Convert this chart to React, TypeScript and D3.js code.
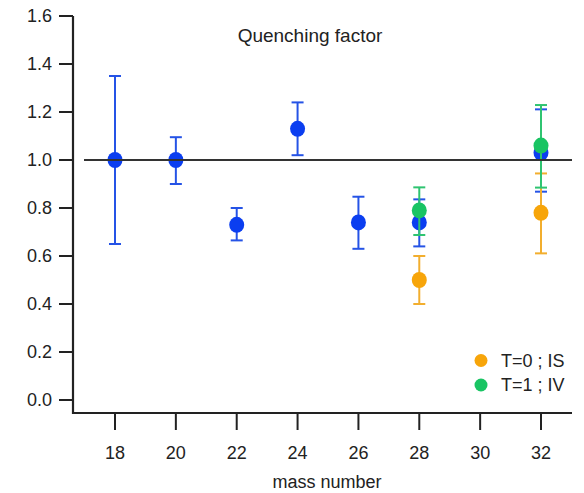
import React from "react";
import * as d3 from "d3";

const yTicks = [0.0, 0.2, 0.4, 0.6, 0.8, 1.0, 1.2, 1.4, 1.6];
const xTicks = [18, 20, 22, 24, 26, 28, 30, 32];

const blueMass = [18, 20, 22, 24, 26, 28, 32];
const blueValue = [1.0, 1.0, 0.73, 1.13, 0.74, 0.74, 1.03];
const blueLow = [0.65, 0.9, 0.665, 1.02, 0.63, 0.64, 0.868];
const blueHigh = [1.35, 1.095, 0.8, 1.24, 0.847, 0.836, 1.211];

const orangeMass = [28, 32];
const orangeValue = [0.5, 0.78];
const orangeLow = [0.4, 0.611];
const orangeHigh = [0.6, 0.944];

const greenMass = [28, 32];
const greenValue = [0.79, 1.06];
const greenLow = [0.6875, 0.885];
const greenHigh = [0.886, 1.229];

const legendLabels = ["T=0 ; IS", "T=1 ; IV"];

const W = 584;
const H = 493;
const FONT = "'Liberation Sans', Arial, sans-serif";

export default function App() {
  const x = d3.scaleLinear().domain([18, 32]).range([115, 541]);
  const y = d3.scaleLinear().domain([0, 1.6]).range([400, 16]);
  const axisLeft = 73;
  const axisRight = 572;
  const axisBottom = 413;

  const series = [
    { mass: blueMass, v: blueValue, lo: blueLow, hi: blueHigh, dot: "#0b3ef0", bar: "#2553e6" },
    { mass: orangeMass, v: orangeValue, lo: orangeLow, hi: orangeHigh, dot: "#f7a50a", bar: "#f2ae2e" },
    { mass: greenMass, v: greenValue, lo: greenLow, hi: greenHigh, dot: "#19c463", bar: "#2fc471" },
  ];

  return (
    <svg width={W} height={H} style={{ position: "absolute", left: 0, top: 0, background: "#fff" }}>
      {/* axes */}
      <line x1={axisLeft} x2={axisLeft} y1={y(1.6)} y2={axisBottom + 1} stroke="#222" strokeWidth={2.2} />
      <line x1={axisLeft - 1} x2={axisRight} y1={axisBottom} y2={axisBottom} stroke="#222" strokeWidth={2.2} />
      {yTicks.map((t) => (
        <g key={"y" + t}>
          <line x1={59} x2={axisLeft} y1={y(t)} y2={y(t)} stroke="#222" strokeWidth={2} />
          <text x={52} y={y(t)} dy="0.36em" textAnchor="end" fontFamily={FONT} fontSize={18} fill="#222">
            {t.toFixed(1)}
          </text>
        </g>
      ))}
      {xTicks.map((t) => (
        <g key={"x" + t}>
          <line x1={x(t)} x2={x(t)} y1={axisBottom} y2={430} stroke="#222" strokeWidth={2} />
          <text x={x(t)} y={459} textAnchor="middle" fontFamily={FONT} fontSize={18} fill="#222">
            {t}
          </text>
        </g>
      ))}
      <text x={327} y={488} textAnchor="middle" fontFamily={FONT} fontSize={18} fill="#222">
        mass number
      </text>
      <text x={310} y={42} textAnchor="middle" fontFamily={FONT} fontSize={19} fill="#222">
        Quenching factor
      </text>

      {/* data */}
      {series.map((s, si) => (
        <g key={"s" + si}>
          {s.mass.map((m, i) => (
            <g key={i}>
              <line x1={x(m)} x2={x(m)} y1={y(s.lo[i])} y2={y(s.hi[i])} stroke={s.bar} strokeWidth={2} />
              <line x1={x(m) - 6} x2={x(m) + 6} y1={y(s.lo[i])} y2={y(s.lo[i])} stroke={s.bar} strokeWidth={2} />
              <line x1={x(m) - 6} x2={x(m) + 6} y1={y(s.hi[i])} y2={y(s.hi[i])} stroke={s.bar} strokeWidth={2} />
              <ellipse cx={x(m)} cy={y(s.v[i])} rx={7.5} ry={8} fill={s.dot} />
            </g>
          ))}
        </g>
      ))}

      {/* reference line */}
      <line x1={84} x2={axisRight} y1={y(1.0)} y2={y(1.0)} stroke="#333" strokeWidth={2} />

      {/* legend */}
      {legendLabels.map((l, i) => (
        <g key={l}>
          <circle cx={481} cy={360.5 + i * 24.5} r={6.5} fill={series[i + 1].dot} />
          <text x={501} y={360.5 + i * 24.5} dy="0.36em" fontFamily={FONT} fontSize={18} fill="#222">
            {l}
          </text>
        </g>
      ))}
    </svg>
  );
}
